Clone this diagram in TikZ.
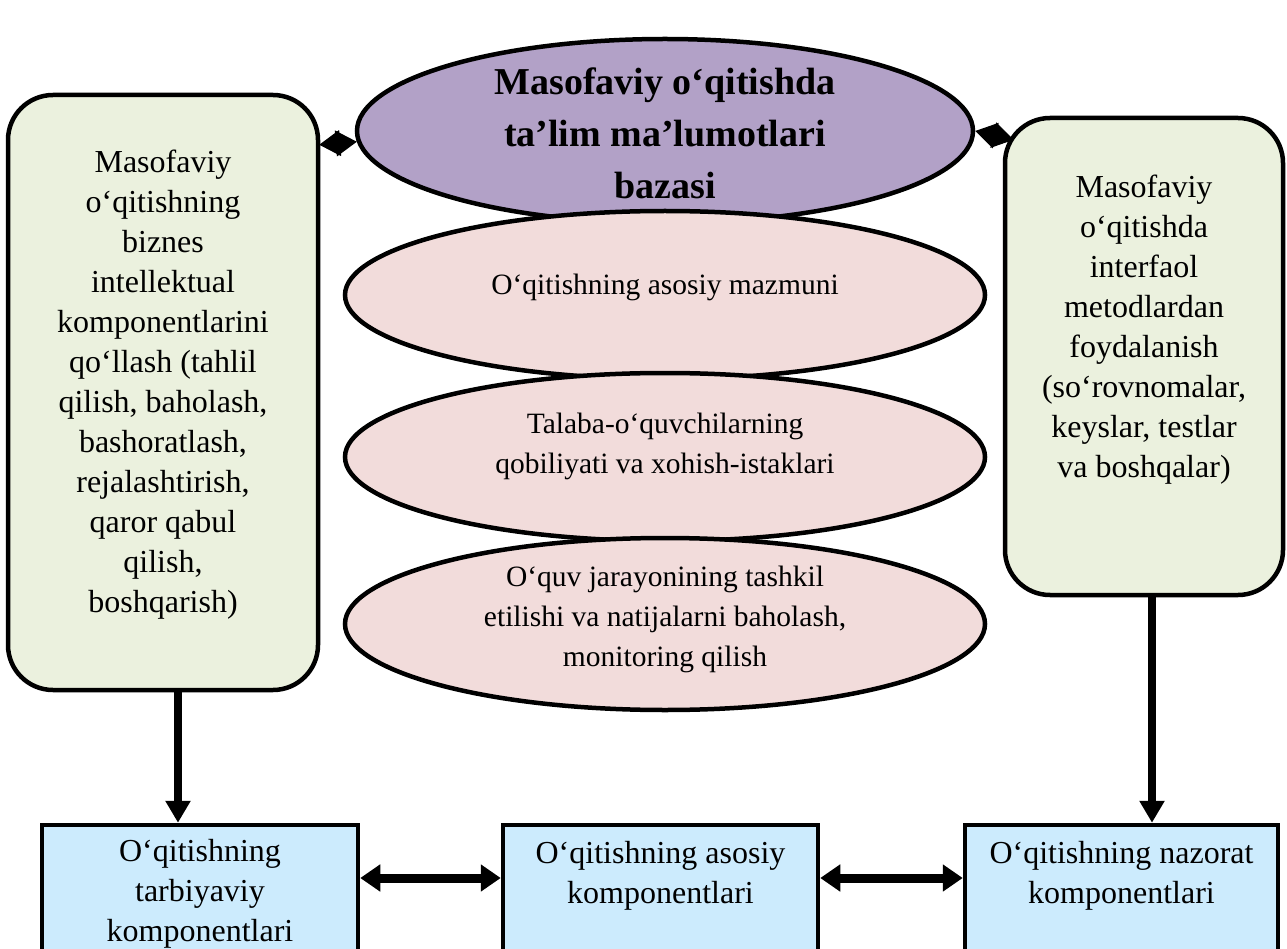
\documentclass[tikz,border=0pt]{standalone}
\usepackage{fontspec}
\setmainfont{Liberation Serif}
\usetikzlibrary{arrows.meta,calc,shapes.geometric}
\definecolor{olivebg}{HTML}{EBF1DE}
\definecolor{purp}{HTML}{B2A1C7}
\definecolor{pinkbg}{HTML}{F2DCDB}
\definecolor{skyb}{HTML}{CCEBFD}
\begin{document}
\begin{tikzpicture}[x=1pt,y=-1pt,
  greenbox/.style={draw=black, line width=4.5pt, fill=olivebg, rounded corners=45pt, inner sep=0pt},
  ell/.style={ellipse, draw=black, line width=4.5pt, inner sep=0pt},
  bluebox/.style={draw=black, line width=4.5pt, fill=skyb, inner sep=0pt, minimum height=170pt},
  txt/.style={align=center, font=\fontsize{32}{40}\selectfont, inner sep=0pt},
  etxt/.style={align=center, font=\fontsize{29.5}{40}\selectfont, inner sep=0pt},
  ttl/.style={align=center, font=\fontsize{38}{52}\selectfont\bfseries, inner sep=0pt},
  arr/.style={line width=8pt, -{Triangle[length=22pt,width=24pt]}},
  darr/.style={line width=9pt, {Triangle[length=20pt,width=26pt]}-{Triangle[length=20pt,width=26pt]}},
  diam/.style={line width=1pt, {Triangle[length=21pt,width=26pt]}-{Triangle[length=21pt,width=26pt]}}
]
\clip (0,0) rectangle (1287,949);
\fill[white] (0,0) rectangle (1287,949);

% side boxes
\node[greenbox, minimum width=310pt, minimum height=595pt] (lbox) at (163,392.5) {};
\node[txt] (ltext) at (163,385) {Masofaviy\\o‘qitishning\\biznes\\intellektual\\komponentlarini\\qo‘llash (tahlil\\qilish, baholash,\\bashoratlash,\\rejalashtirish,\\qaror qabul\\qilish,\\boshqarish)};
\node[greenbox, minimum width=278pt, minimum height=477pt] (rbox) at (1144,356.5) {};
\node[txt] (rtext) at (1144,330) {Masofaviy\\o‘qitishda\\interfaol\\metodlardan\\foydalanish\\(so‘rovnomalar,\\keyslar, testlar\\va boshqalar)};

% central ellipses
\node[ell, fill=purp, minimum width=616pt, minimum height=184pt] (db) at (665,131) {};
\node[ttl] (dbt) at (665,133) {Masofaviy o‘qitishda\\ta’lim ma’lumotlari\\bazasi};
\node[ell, fill=pinkbg, minimum width=640pt, minimum height=168pt] (e1) at (665,295) {};
\node[etxt] (e1t) at (665,287) {O‘qitishning asosiy mazmuni};
\node[ell, fill=pinkbg, minimum width=640pt, minimum height=168pt] (e2) at (665,457) {};
\node[etxt] (e2t) at (665,446) {Talaba-o‘quvchilarning\\qobiliyati va xohish-istaklari};
\node[ell, fill=pinkbg, minimum width=640pt, minimum height=172pt] (e3) at (665,624) {};
\node[etxt] (e3t) at (665,619) {O‘quv jarayonining tashkil\\etilishi va natijalarni baholash,\\monitoring qilish};

% bottom boxes
\node[bluebox, minimum width=316pt] (lbot) at (200,910) {};
\node[txt] (lbt) at (200,894) {O‘qitishning\\tarbiyaviy\\komponentlari};
\node[bluebox, minimum width=315pt] (mbot) at (660.5,910) {};
\node[txt] (mbt) at (660.5,876) {O‘qitishning asosiy\\komponentlari};
\node[bluebox, minimum width=313pt] (rbot) at (1121.5,910) {};
\node[txt] (rbt) at (1121.5,876) {O‘qitishning nazorat\\komponentlari};

% connectors
\coordinate (la) at (178,0);
\coordinate (ra) at (1152,0);
\coordinate (hy) at (0,878);
\draw[arr] (lbox.south -| la) -- (lbot.north -| la);
\draw[arr] (rbox.south -| ra) -- (rbot.north -| ra);
\draw[darr] (lbot.east |- hy) -- (mbot.west |- hy);
\draw[darr] (mbot.east |- hy) -- (rbot.west |- hy);
\draw[diam] (db.182) -- ($(lbox.north east)+(-1,52)$);
\draw[diam] (db.east) -- ($(rbox.north west)+(11,24)$);
\end{tikzpicture}
\end{document}
